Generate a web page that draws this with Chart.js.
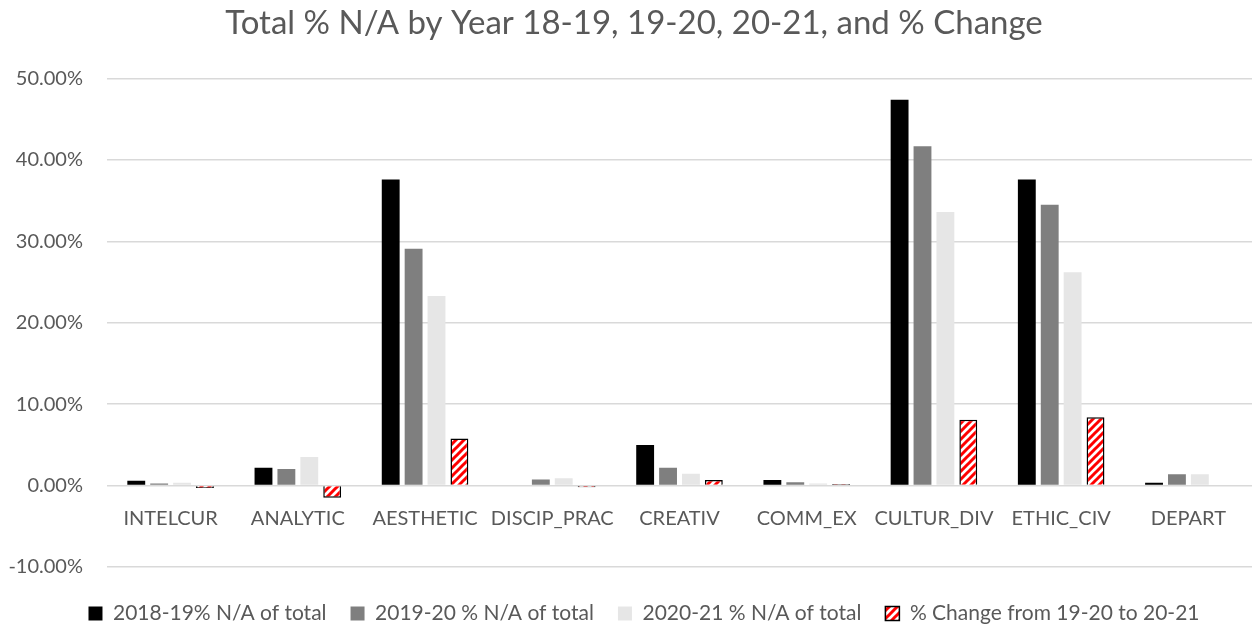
<!DOCTYPE html>
<html lang="en">
<head>
  <meta charset="utf-8">
  <title>Total % N/A by Year</title>
  <script src="https://cdn.jsdelivr.net/npm/chart.js@4.4.0/dist/chart.umd.min.js"></script>
  <style>
    html, body { margin: 0; padding: 0; background: #fff; }
    #wrap { width: 1252px; height: 632px; }
  </style>
</head>
<body>
  <div id="wrap"><canvas id="myChart"></canvas></div>
  <script>
    // categories and series (values in percent)
    var categories = ['INTELCUR', 'ANALYTIC', 'AESTHETIC', 'DISCIP_PRAC', 'CREATIV', 'COMM_EX', 'CULTUR_DIV', 'ETHIC_CIV', 'DEPART'];
    var seriesNames = ['2018-19% N/A of total', '2019-20 % N/A of total', '2020-21 % N/A of total', '% Change from 19-20 to 20-21'];
    var year1819 = [0.6, 2.2, 37.6, 0.0, 5.0, 0.7, 47.4, 37.6, 0.35];
    var year1920 = [0.25, 2.05, 29.1, 0.75, 2.2, 0.4, 41.7, 34.5, 1.4];
    var year2021 = [0.35, 3.5, 23.3, 0.9, 1.45, 0.25, 33.6, 26.2, 1.4];
    var change = [-0.3, -1.5, 5.8, -0.2, 0.7, 0.2, 8.1, 8.4, 0];
    var yTicks = [-10, 0, 10, 20, 30, 40, 50];

    // red diagonal hatch
    function makeHatch() {
      var c = document.createElement('canvas');
      c.width = 8; c.height = 8;
      var g = c.getContext('2d');
      g.fillStyle = '#ffffff';
      g.fillRect(0, 0, 8, 8);
      g.strokeStyle = '#ff0000';
      g.lineWidth = 3;
      g.beginPath();
      g.moveTo(-2, 2); g.lineTo(2, -2);
      g.moveTo(-2, 10); g.lineTo(10, -2);
      g.moveTo(6, 10); g.lineTo(10, 6);
      g.stroke();
      return g.createPattern(c, 'repeat');
    }
    var hatch = makeHatch();

    // nudge title and legend a little to the right, like the original
    var nudge = {
      id: 'nudge',
      afterLayout: function (chart) {
        chart.legend.left += 18; chart.legend.right += 18;
        chart.titleBlock.left += 8; chart.titleBlock.right += 8;
      }
    };

    var font = 'Lato, "Noto Sans", sans-serif';
    var ctx = document.getElementById('myChart');
    var myChart = new Chart(ctx, {
      type: 'bar',
      data: {
        labels: categories,
        datasets: [
          { label: seriesNames[0], data: year1819, backgroundColor: '#000000', borderWidth: 0 },
          { label: seriesNames[1], data: year1920, backgroundColor: '#7f7f7f', borderWidth: 0 },
          { label: seriesNames[2], data: year2021, backgroundColor: '#e6e6e6', borderWidth: 0 },
          { label: seriesNames[3], data: change, backgroundColor: hatch, borderColor: '#000000', borderWidth: 1.5 }
        ]
      },
      plugins: [nudge],
      options: {
        responsive: true,
        maintainAspectRatio: false,
        animation: false,
        layout: { padding: { left: 0, right: 0, top: 0, bottom: -2 } },
        datasets: {
          bar: { categoryPercentage: 0.72, barPercentage: 0.78 }
        },
        plugins: {
          title: {
            display: true,
            text: 'Total % N/A by Year 18-19, 19-20, 20-21, and % Change',
            color: '#595959',
            font: { family: font, size: 33, weight: 'normal', lineHeight: 1.2 },
            padding: { top: 4, bottom: 35 }
          },
          legend: {
            position: 'bottom',
            title: {
              display: true,
              text: ' ',
              font: { size: 10, lineHeight: 1 },
              padding: { top: 0, bottom: 2 }
            },
            labels: {
              color: '#595959',
              font: { family: font, size: 21 },
              boxWidth: 14,
              boxHeight: 14,
              padding: 24
            }
          },
          tooltip: { enabled: false }
        },
        scales: {
          x: {
            position: { y: 0 },
            grid: { display: false, drawTicks: false },
            border: { display: false },
            ticks: {
              color: '#595959',
              font: { family: font, size: 20 },
              padding: 21,
              maxRotation: 0,
              autoSkip: false
            }
          },
          y: {
            min: -10,
            max: 50,
            afterBuildTicks: function (axis) {
              axis.ticks = yTicks.map(function (v) { return { value: v }; });
            },
            afterFit: function (axis) { axis.width = 107; },
            grid: { color: '#d9d9d9', lineWidth: 1.5, drawTicks: false },
            border: { display: false },
            ticks: {
              color: '#595959',
              font: { family: font, size: 20 },
              padding: 24,
              callback: function (v) { return v.toFixed(2) + '%'; }
            }
          }
        }
      }
    });
  </script>
</body>
</html>
